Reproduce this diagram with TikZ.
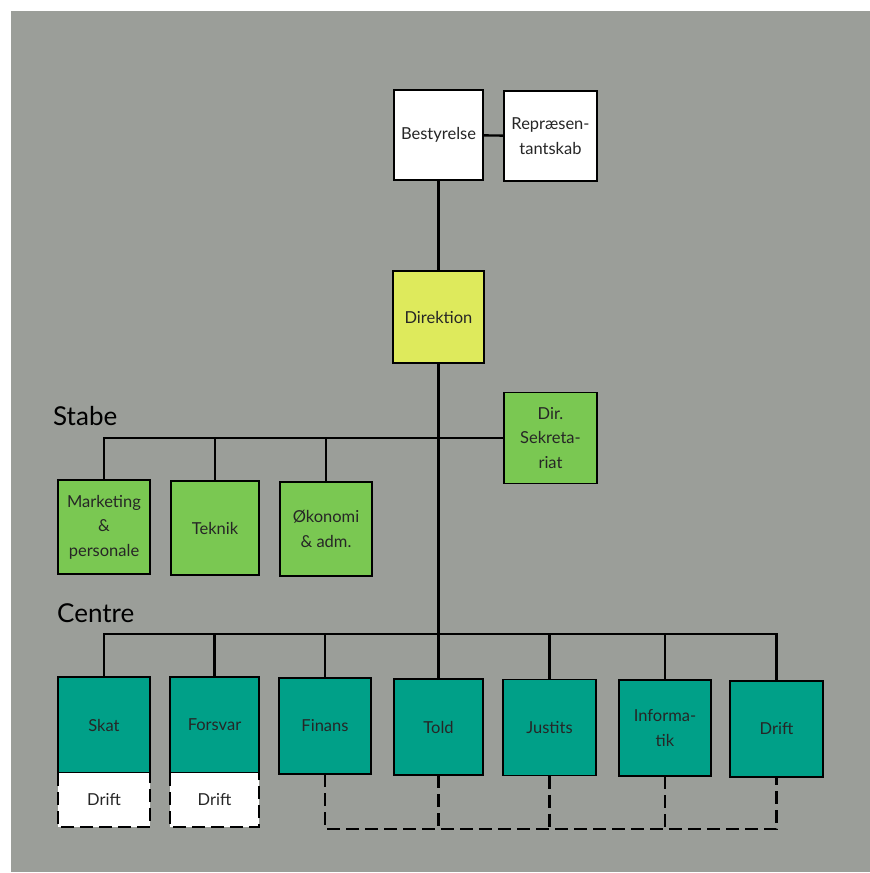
\documentclass[tikz,border=0pt]{standalone}
\usepackage{fontspec}
\setmainfont{Lato}
\definecolor{bggray}{RGB}{155,158,153}
\definecolor{dirgelb}{RGB}{222,234,92}
\definecolor{stabgruen}{RGB}{122,200,82}
\definecolor{centreteal}{RGB}{0,160,136}
\begin{document}
\begin{tikzpicture}[x=1pt,y=-1pt,
  orgbox/.style={draw=black, line width=1.6pt, rectangle, inner sep=0pt, outer sep=0pt,
    minimum width=91pt, minimum height=93pt, align=center,
    font=\fontsize{16.5}{24.5}\selectfont, text=black!85},
  whitebox/.style={orgbox, fill=white},
  yellowbox/.style={orgbox, fill=dirgelb},
  greenbox/.style={orgbox, fill=stabgruen},
  tealbox/.style={orgbox, fill=centreteal, minimum height=96pt},
  subbox/.style={rectangle, fill=white, inner sep=0pt, outer sep=0pt,
    minimum height=54pt, font=\fontsize{16.5}{24.5}\selectfont, text=black!85},
  conn/.style={line width=2.4pt, black},
  dconn/.style={line width=2.4pt, black, dash pattern=on 13pt off 6pt},
  grouplabel/.style={font=\fontsize{26}{30}\selectfont, text=black, anchor=base west, inner sep=0pt}
]
\useasboundingbox (0,0) rectangle (870,873);
\fill[white] (0,0) rectangle (870,873);
\fill[bggray] (11,11) rectangle (870,872);

% top level
\node[whitebox, minimum width=89pt, minimum height=90pt] (best) at (438.5,135) {Bestyrelse};
\node[whitebox, minimum width=93pt, minimum height=90pt] (rep) at (550.5,136) {Repræsen-\\tantskab};
\node[yellowbox, minimum width=91pt, minimum height=92pt] (dir) at (438.5,317) {Direktion};
\node[greenbox, minimum width=93pt, minimum height=91pt] (sek) at (550.5,438) {Dir.\\Sekreta-\\riat};

% Stabe
\node[grouplabel] (stabe) at (53,425) {Stabe};
\node[greenbox, minimum width=92pt, minimum height=94pt] (mark) at (104,527) {Marketing\\\&\\personale};
\node[greenbox, minimum width=88pt, minimum height=94pt] (tek) at (215,528) {Teknik};
\node[greenbox, minimum width=92pt, minimum height=94pt] (oko) at (326,529) {Økonomi\\\& adm.};

% Centre
\node[grouplabel] (centre) at (57,622) {Centre};
\node[tealbox, minimum width=92pt] (skat) at (104,725) {Skat};
\node[tealbox, minimum width=89pt] (fors) at (214.5,725) {Forsvar};
\node[tealbox, minimum width=92pt] (fin) at (325,726) {Finans};
\node[tealbox, minimum width=89pt] (told) at (438.5,727) {Told};
\node[tealbox, minimum width=93pt] (jus) at (549.5,727.5) {Justits};
\node[tealbox, minimum width=92pt] (inf) at (665,728) {Informa-\\tik};
\node[tealbox, minimum width=93pt] (drift) at (776.5,729) {Drift};

% Drift sub boxes
\node[subbox, minimum width=92pt, anchor=north] (sdskat) at (skat.south) {Drift};
\node[subbox, minimum width=89pt, anchor=north] (sdfors) at (fors.south) {Drift};
\draw[dconn] (sdskat.north west) -- (sdskat.south west) -- (sdskat.south east) -- (sdskat.north east);
\draw[dconn] (sdfors.north west) -- (sdfors.south west) -- (sdfors.south east) -- (sdfors.north east);

% coordinates for bars
\coordinate (cbar) at (0,634);
\coordinate (dbar) at (0,829);

% connectors
\draw[conn] (best) -- (rep);
\draw[conn] (best.south) -- (dir.north);
\draw[conn] (dir.south) -- (told.north);
\draw[conn] (mark.north) |- (sek.west);
\draw[conn] (tek.north) -- (tek.north |- sek.west);
\draw[conn] (oko.north) -- (oko.north |- sek.west);
\draw[conn] (skat.north) |- (cbar -| drift.north) -- (drift.north);
\draw[conn] (fors.north) -- (fors.north |- cbar);
\draw[conn] (fin.north) -- (fin.north |- cbar);
\draw[conn] (jus.north) -- (jus.north |- cbar);
\draw[conn] (inf.north) -- (inf.north |- cbar);

\draw[dconn] (fin.south) |- (dbar -| drift.south) -- (drift.south);
\draw[dconn] (told.south) -- (told.south |- dbar);
\draw[dconn] (jus.south) -- (jus.south |- dbar);
\draw[dconn] (inf.south) -- (inf.south |- dbar);
\end{tikzpicture}
\end{document}
